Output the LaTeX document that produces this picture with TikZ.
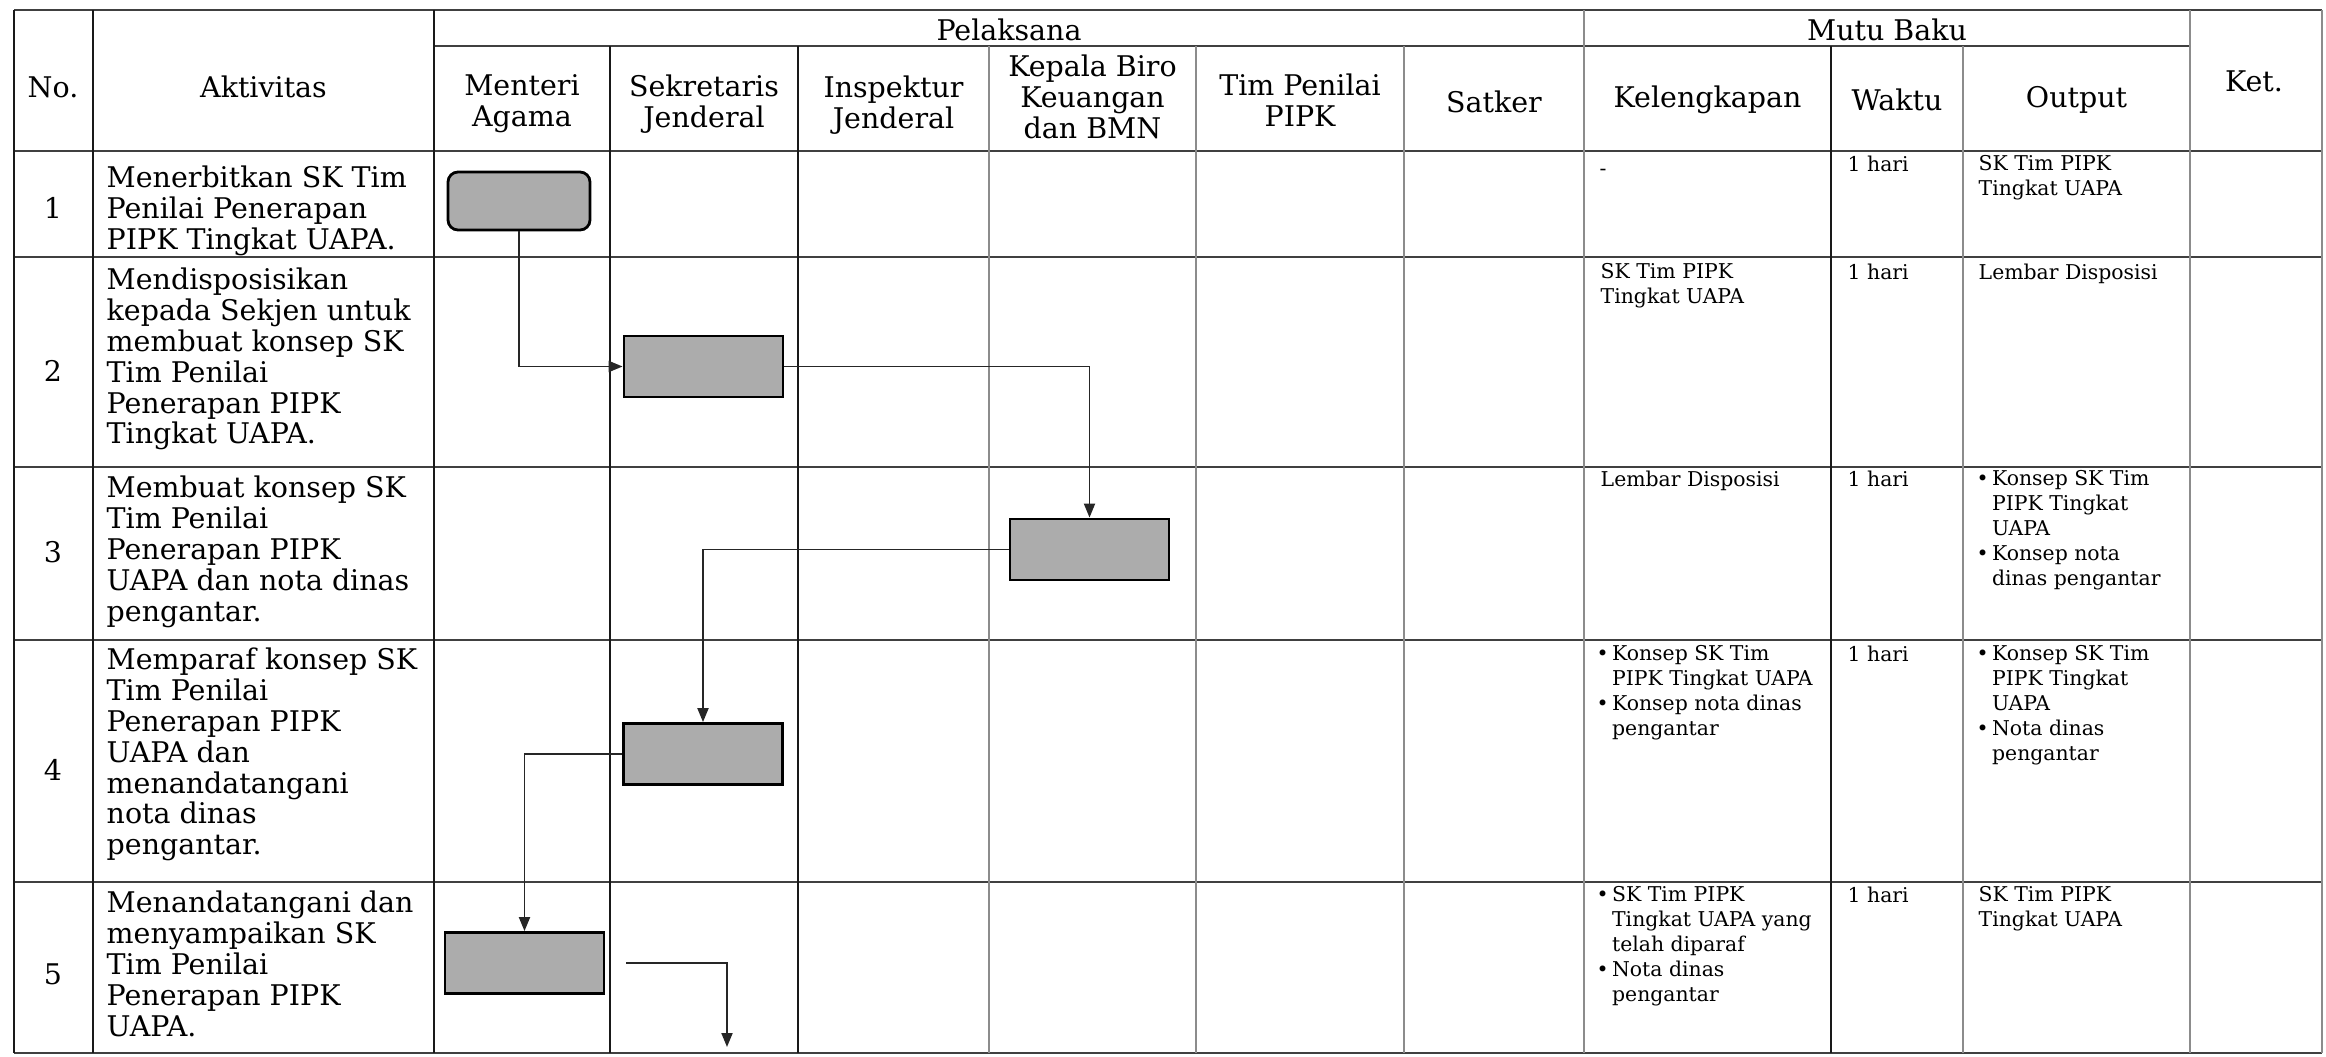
\documentclass[tikz,border=0pt]{standalone}
\usepackage{fontspec}
\setmainfont{DejaVu Serif}
\usepackage{tikz}
\usetikzlibrary{arrows.meta}
\newcommand{\bu}{\textbullet\,}
\newcommand{\hg}{\phantom{\textbullet\,}}

\begin{document}
\begin{tikzpicture}[
		every node/.style={inner sep=0pt, font=\fontsize{8.1}{8.8}\selectfont},
		head/.style={align=center},
		act/.style={align=left, anchor=north west},
		mutu/.style={align=left, anchor=north west, font=\fontsize{5.8}{7.1}\selectfont},
		proc/.style={draw=black, line width=0.8pt, fill=gray!65, minimum width=1.59cm, minimum height=0.61cm},
		rule/.style={draw=black!75, line width=0.65pt},
		dark/.style={draw=black!90, line width=0.7pt},
		light/.style={draw=black!45, line width=0.6pt},
		flow/.style={draw=black!85, line width=0.55pt, -{Triangle[length=1.4mm, width=1.1mm]}}
	]
  \useasboundingbox (0cm, 0cm) rectangle (23.26cm, -10.56cm);
  \draw [rule] (0.14cm, -0.10cm) -- (23.22cm, -0.10cm);
  \draw [rule] (4.34cm, -0.46cm) -- (21.90cm, -0.46cm);
  \draw [rule] (0.14cm, -1.51cm) -- (23.22cm, -1.51cm);
  \draw [rule] (0.14cm, -2.57cm) -- (23.22cm, -2.57cm);
  \draw [rule] (0.14cm, -4.67cm) -- (23.22cm, -4.67cm);
  \draw [rule] (0.14cm, -6.40cm) -- (23.22cm, -6.40cm);
  \draw [rule] (0.14cm, -8.82cm) -- (23.22cm, -8.82cm);
  \draw [rule] (0.14cm, -10.53cm) -- (23.22cm, -10.53cm);
  \draw [dark] (0.14cm, -0.10cm) -- (0.14cm, -10.53cm);
  \draw [dark] (0.93cm, -0.10cm) -- (0.93cm, -10.53cm);
  \draw [dark] (4.34cm, -0.10cm) -- (4.34cm, -10.53cm);
  \draw [dark] (6.10cm, -0.46cm) -- (6.10cm, -10.53cm);
  \draw [dark] (7.98cm, -0.46cm) -- (7.98cm, -10.53cm);
  \draw [light] (9.89cm, -0.46cm) -- (9.89cm, -10.53cm);
  \draw [light] (11.96cm, -0.46cm) -- (11.96cm, -10.53cm);
  \draw [light] (14.04cm, -0.46cm) -- (14.04cm, -10.53cm);
  \draw [light] (15.84cm, -0.10cm) -- (15.84cm, -10.53cm);
  \draw [dark] (18.31cm, -0.46cm) -- (18.31cm, -10.53cm);
  \draw [light] (19.63cm, -0.46cm) -- (19.63cm, -10.53cm);
  \draw [light] (21.90cm, -0.10cm) -- (21.90cm, -10.53cm);
  \draw [light] (23.22cm, -0.10cm) -- (23.22cm, -10.53cm);

  \node (h_no) [head] at (0.53cm, -0.87cm) {No.};
  \node (h_akt) [head] at (2.635cm, -0.87cm) {Aktivitas};
  \node (h_pel) [head] at (10.09cm, -0.30cm) {Pelaksana};
  \node (h_mutu) [head] at (18.87cm, -0.30cm) {Mutu Baku};
  \node (h_ket) [head] at (22.54cm, -0.81cm) {Ket.};
  \node (h_ma) [head] at (5.22cm, -1.04cm) {Menteri\\Agama};
  \node (h_sj) [head] at (7.04cm, -1.04cm) {Sekretaris\\Jenderal};
  \node (h_ij) [head] at (8.935cm, -1.05cm) {Inspektur\\Jenderal};
  \node (h_kb) [head] at (10.925cm, -0.97cm) {Kepala Biro\\Keuangan\\dan BMN};
  \node (h_tp) [head] at (13.0cm, -1.0cm) {Tim Penilai\\PIPK};
  \node (h_sat) [head] at (14.94cm, -1.02cm) {Satker};
  \node (h_kel) [head] at (17.075cm, -1.0cm) {Kelengkapan};
  \node (h_wak) [head] at (18.97cm, -1.0cm) {Waktu};
  \node (h_out) [head] at (20.765cm, -1.0cm) {Output};

  \node (n_1) at (0.53cm, -2.08cm) {1};
  \node (n_2) at (0.53cm, -3.71cm) {2};
  \node (n_3) at (0.53cm, -5.52cm) {3};
  \node (n_4) at (0.53cm, -7.70cm) {4};
  \node (n_5) at (0.53cm, -9.74cm) {5};

  \node (a_1) [act] at (1.06cm, -1.65cm) {Menerbitkan SK Tim\\Penilai Penerapan\\PIPK Tingkat UAPA.};
  \node (a_2) [act] at (1.06cm, -2.67cm) {Mendisposisikan\\kepada Sekjen untuk\\membuat konsep SK\\Tim Penilai\\Penerapan PIPK\\Tingkat UAPA.};
  \node (a_3) [act] at (1.06cm, -4.75cm) {Membuat konsep SK\\Tim Penilai\\Penerapan PIPK\\UAPA dan nota dinas\\pengantar.};
  \node (a_4) [act] at (1.06cm, -6.47cm) {Memparaf konsep SK\\Tim Penilai\\Penerapan PIPK\\UAPA dan\\menandatangani\\nota dinas\\pengantar.};
  \node (a_5) [act] at (1.06cm, -8.90cm) {Menandatangani dan\\menyampaikan SK\\Tim Penilai\\Penerapan PIPK\\UAPA.};

  \node (b_1) [proc, rounded corners=0.1cm, minimum width=1.42cm, minimum height=0.58cm] at (5.19cm, -2.01cm) {};
  \node (b_2) [proc] at (7.035cm, -3.665cm) {};
  \node (b_3) [proc] at (10.895cm, -5.495cm) {};
  \node (b_4) [proc] at (7.03cm, -7.54cm) {};
  \node (b_5) [proc] at (5.245cm, -9.63cm) {};
  \coordinate (out_5) at (7.27cm, -10.47cm);
  \draw [flow] (b_1.south) |- (b_2.west);
  \draw [flow] (b_2.east) -| (b_3.north);
  \draw [flow] (b_3.west) -| (b_4.north);
  \draw [flow] (b_4.west) -| (b_5.north);
  \draw [flow, shorten <=0.21cm] (b_5.east) -| (out_5);

  \node (k_1) [font=\fontsize{5.8}{7.1}\selectfont] at (16.03cm, -1.72cm) {-};
  \node (w_1) [mutu] at (18.47cm, -1.55cm) {1 hari};
  \node (o_1) [mutu] at (19.78cm, -1.55cm) {SK Tim PIPK\\Tingkat UAPA};
  \node (k_2) [mutu] at (16.00cm, -2.63cm) {SK Tim PIPK\\Tingkat UAPA};
  \node (w_2) [mutu] at (18.47cm, -2.63cm) {1 hari};
  \node (o_2) [mutu] at (19.78cm, -2.63cm) {Lembar Disposisi};
  \node (k_3) [mutu] at (16.00cm, -4.70cm) {Lembar Disposisi};
  \node (w_3) [mutu] at (18.47cm, -4.70cm) {1 hari};
  \node (o_3) [mutu] at (19.76cm, -4.70cm) {\bu Konsep SK Tim\\\hg PIPK Tingkat\\\hg UAPA\\\bu Konsep nota\\\hg dinas pengantar};
  \node (k_4) [mutu] at (15.96cm, -6.45cm) {\bu Konsep SK Tim\\\hg PIPK Tingkat UAPA\\\bu Konsep nota dinas\\\hg pengantar};
  \node (w_4) [mutu] at (18.47cm, -6.45cm) {1 hari};
  \node (o_4) [mutu] at (19.76cm, -6.45cm) {\bu Konsep SK Tim\\\hg PIPK Tingkat\\\hg UAPA\\\bu Nota dinas\\\hg pengantar};
  \node (k_5) [mutu] at (15.96cm, -8.86cm) {\bu SK Tim PIPK\\\hg Tingkat UAPA yang\\\hg telah diparaf\\\bu Nota dinas\\\hg pengantar};
  \node (w_5) [mutu] at (18.47cm, -8.86cm) {1 hari};
  \node (o_5) [mutu] at (19.78cm, -8.86cm) {SK Tim PIPK\\Tingkat UAPA};
\end{tikzpicture}
\end{document}
